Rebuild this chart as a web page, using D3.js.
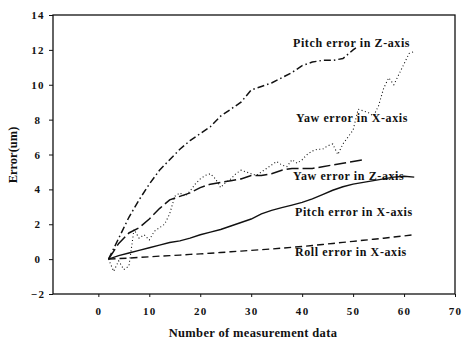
<!DOCTYPE html>
<html>
<head>
<meta charset="utf-8">
<script src="https://cdn.jsdelivr.net/npm/d3@7"></script>
<style>
  body { margin: 0; background: #fff; }
  text { font-family: "Liberation Serif", "Times New Roman", serif; font-weight: bold; fill: #111; }
</style>
</head>
<body>
<div id="chart"></div>
<script>
let xTicks = [0, 10, 20, 30, 40, 50, 60, 70];
let yTicks = [-2, 0, 2, 4, 6, 8, 10, 12, 14];

let pitchZx = [2, 4, 6, 8, 10, 12, 14, 16, 18, 20, 22, 24, 26, 28, 30, 32, 34, 36, 38, 40, 42, 44, 46, 48, 50, 51];
let pitchZy = [0, 1.2, 2.4, 3.4, 4.3, 5.1, 5.7, 6.3, 6.8, 7.2, 7.6, 8.2, 8.6, 9.0, 9.7, 9.9, 10.1, 10.4, 10.7, 11.1, 11.3, 11.4, 11.4, 11.5, 12.0, 12.2];

let yawXx = [2, 3, 4, 5, 6, 7, 8, 9, 10, 11, 12, 13, 14, 15, 16, 17, 18, 19, 20, 21, 22, 23, 24, 25, 26, 27, 28, 29, 30, 31, 32,
             33, 34, 35, 36, 37, 38, 39, 40, 41, 42, 43, 44, 45, 46, 47, 48, 49, 50, 51, 52, 53, 54, 55, 56, 57, 58, 59, 60, 61, 62];
let yawXy = [0, -0.7, -0.1, -0.6, -0.4, 1.7, 1.2, 1.4, 1.1, 1.6, 1.8, 2.0, 2.6, 3.6, 3.8, 3.6, 3.9, 4.3, 4.6, 4.8, 4.9,
             4.6, 4.1, 4.4, 4.6, 4.9, 5.1, 5.0, 4.9, 4.8, 5.0, 5.2, 5.4, 5.6, 5.4, 5.3, 5.7, 5.5, 5.7, 6.0, 6.2, 6.3, 6.3,
             6.5, 6.6, 6.0, 6.6, 7.0, 7.4, 8.6, 8.5, 8.4, 8.2, 8.8, 9.8, 10.4, 10.0, 10.6, 11.2, 11.8, 11.9];

let yawZx = [2, 4, 6, 8, 10, 12, 14, 16, 18, 20, 22, 24, 26, 28, 30, 32, 34, 36, 38, 40, 42, 44, 46, 48, 50, 52];
let yawZy = [0, 0.9, 1.5, 1.8, 2.3, 2.9, 3.4, 3.6, 3.8, 4.1, 4.3, 4.4, 4.5, 4.6, 4.8, 4.8, 4.9, 5.1, 5.2, 5.2, 5.2, 5.3, 5.4, 5.5, 5.6, 5.7];

let pitchXx = [2, 4, 6, 8, 10, 12, 14, 16, 18, 20, 22, 24, 26, 28, 30, 32, 34, 36, 38, 40, 42, 44, 46, 48, 50, 52, 54, 56, 58, 60, 62];
let pitchXy = [0, 0.2, 0.35, 0.5, 0.65, 0.8, 0.95, 1.05, 1.2, 1.4, 1.55, 1.7, 1.9, 2.1, 2.3, 2.6, 2.8, 2.95, 3.1, 3.25, 3.45,
               3.7, 3.95, 4.15, 4.3, 4.4, 4.5, 4.6, 4.7, 4.75, 4.7];

let rollXx = [2, 4, 6, 8, 10, 12, 14, 16, 18, 20, 22, 24, 26, 28, 30, 32, 34, 36, 38, 40, 42, 44, 46, 48, 50, 52, 54, 56, 58, 60, 62];
let rollXy = [0, 0.03, 0.06, 0.1, 0.13, 0.17, 0.2, 0.23, 0.27, 0.3, 0.34, 0.38, 0.42, 0.46, 0.5, 0.54, 0.58, 0.63, 0.68, 0.72,
              0.78, 0.84, 0.9, 0.96, 1.02, 1.08, 1.14, 1.2, 1.27, 1.33, 1.4];

let series = [
  {name: "Pitch error in Z-axis", xs: pitchZx, ys: pitchZy, dash: "7,3,1.5,3", w: 1.5, lx: 293, ly: 47},
  {name: "Yaw error in X-axis",   xs: yawXx,   ys: yawXy,   dash: "1,2.5",     w: 1.1, lx: 296, ly: 122},
  {name: "Yaw error in Z-axis",   xs: yawZx,   ys: yawZy,   dash: "12,4",      w: 1.5, lx: 293, ly: 180},
  {name: "Pitch error in X-axis", xs: pitchXx, ys: pitchXy, dash: null,        w: 1.4, lx: 295, ly: 216},
  {name: "Roll error in X-axis",  xs: rollXx,  ys: rollXy,  dash: "7,4",       w: 1.4, lx: 295, ly: 256}
];

let margin = {top: 15, right: 7, bottom: 48, left: 53},
    width = 462 - margin.left - margin.right,
    height = 342 - margin.top - margin.bottom;

let x = d3.scaleLinear().domain([-8.9, 70]).range([0, width]);
let y = d3.scaleLinear().domain([-2, 14]).range([height, 0]);

let svg = d3.select("#chart")
    .append("svg")
    .attr("width", 462)
    .attr("height", 342)
    .append("g")
    .attr("transform", "translate(" + margin.left + "," + margin.top + ")");

// plot frame
svg.append("rect")
    .attr("width", width)
    .attr("height", height)
    .attr("fill", "none")
    .attr("stroke", "#111")
    .attr("stroke-width", 1.3);

let xAxis = d3.axisBottom(x).tickValues(xTicks).tickSize(3).tickPadding(10);
let yAxis = d3.axisLeft(y).tickValues(yTicks).tickSize(4).tickPadding(0);

let gx = svg.append("g")
    .attr("class", "x axis")
    .attr("transform", "translate(0," + height + ")")
    .call(xAxis);
gx.select(".domain").remove();
gx.selectAll("text")
    .style("font-size", "11px")
    .style("letter-spacing", "1.3px")
    .attr("fill", "#111");
gx.selectAll("line").attr("stroke", "#111");

let gy = svg.append("g")
    .attr("class", "y axis")
    .call(yAxis);
gy.select(".domain").remove();
gy.selectAll("line").attr("stroke", "#111");
gy.selectAll("text")
    .style("font-size", "11px")
    .style("letter-spacing", "1.3px")
    .attr("fill", "#111")
    .attr("text-anchor", "middle")
    .attr("x", -15);

let line = d3.line()
    .x(function(d) { return x(d[0]); })
    .y(function(d) { return y(d[1]); });

series.forEach(function(s) {
  let pts = s.xs.map(function(v, i) { return [v, s.ys[i]]; });
  svg.append("path")
      .datum(pts)
      .attr("fill", "none")
      .attr("stroke", "#111")
      .attr("stroke-width", s.w)
      .attr("stroke-dasharray", s.dash)
      .attr("d", line);

  svg.append("text")
      .attr("x", s.lx - margin.left)
      .attr("y", s.ly - margin.top)
      .style("font-size", "12px")
      .style("letter-spacing", "0.6px")
      .text(s.name);
});

// X axis label
svg.append("text")
    .attr("text-anchor", "middle")
    .attr("x", 253 - margin.left)
    .attr("y", 337 - margin.top)
    .style("font-size", "12.5px")
    .style("letter-spacing", "0.35px")
    .text("Number of measurement data");

// Y axis label
svg.append("text")
    .attr("text-anchor", "middle")
    .attr("transform", "rotate(-90)")
    .attr("x", -(155 - margin.top))
    .attr("y", 17 - margin.left)
    .style("font-size", "12.5px")
    .text("Error(um)");
</script>
</body>
</html>
